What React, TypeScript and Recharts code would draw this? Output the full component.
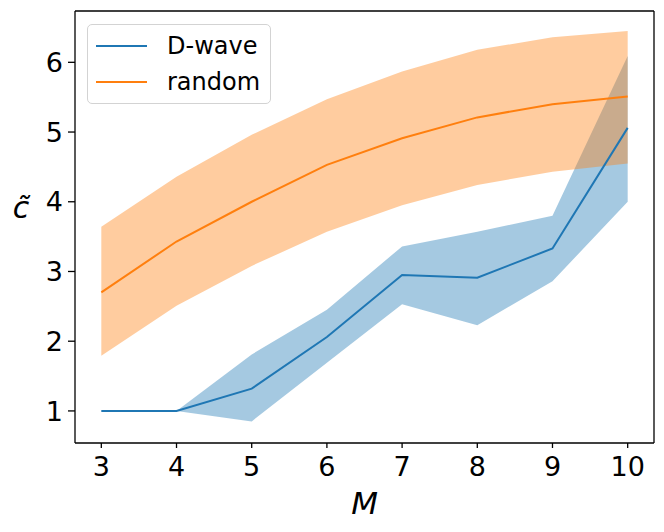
import React from "react";
import {
  ComposedChart,
  XAxis,
  YAxis,
  Area,
  Line,
  Legend,
  ReferenceLine,
} from "recharts";

// values
const mValues = [3, 4, 5, 6, 7, 8, 9, 10];
const dwaveMean = [1.0, 1.0, 1.32, 2.06, 2.95, 2.91, 3.33, 5.06];
const dwaveLow = [1.0, 1.0, 0.85, 1.69, 2.53, 2.23, 2.86, 4.0];
const dwaveHigh = [1.0, 1.0, 1.81, 2.45, 3.36, 3.57, 3.8, 6.09];
const randomMean = [2.7, 3.43, 4.0, 4.53, 4.91, 5.21, 5.4, 5.51];
const randomLow = [1.79, 2.51, 3.08, 3.57, 3.95, 4.24, 4.43, 4.55];
const randomHigh = [3.64, 4.36, 4.96, 5.47, 5.87, 6.18, 6.36, 6.45];
const xTicks = [3, 4, 5, 6, 7, 8, 9, 10];
const yTicks = [1, 2, 3, 4, 5, 6];
const xDomain = [2.65, 10.35];
const yDomain = [0.54, 6.736];

const BLUE = "#1f77b4";
const ORANGE = "#ff7f0e";
const FONT = "DejaVu Sans";

const data = mValues.map((m, i) => ({
  m,
  dwave: dwaveMean[i],
  dwaveBand: [dwaveLow[i], dwaveHigh[i]],
  random: randomMean[i],
  randomBand: [randomLow[i], randomHigh[i]],
}));

const tickStyle = { fontSize: 27, fontFamily: FONT, fill: "#000" };

const LegendBox = () => (
  <div
    style={{
      border: "1px solid #d3d3d3",
      borderRadius: 5,
      background: "rgba(255,255,255,0.8)",
      padding: "3px 10px 3px 8px",
      fontFamily: FONT,
      fontSize: 24,
      color: "#000",
    }}
  >
    {[
      { name: "D-wave", color: BLUE },
      { name: "random", color: ORANGE },
    ].map((e) => (
      <div
        key={e.name}
        style={{ display: "flex", alignItems: "center", height: 36 }}
      >
        <span
          style={{
            display: "inline-block",
            width: 51,
            height: 2,
            background: e.color,
            marginRight: 20,
          }}
        />
        <span>{e.name}</span>
      </div>
    ))}
  </div>
);

const YLabel = () => (
  <text
    x={21}
    y={218}
    textAnchor="middle"
    fontFamily={FONT}
    fontStyle="italic"
    fontSize={30}
    fill="#000"
  >
    {"c\u0303"}
  </text>
);

const App = () => {
  return (
    <div style={{ position: "absolute", left: 0, top: 0 }}>
      <ComposedChart
        width={664}
        height={532}
        data={data}
        margin={{ top: 11, right: 10, bottom: 39, left: 30 }}
      >
        <XAxis
          dataKey="m"
          type="number"
          domain={xDomain}
          ticks={xTicks}
          allowDataOverflow
          height={50}
          tickSize={5}
          tickMargin={9}
          tick={tickStyle}
          axisLine={{ stroke: "#000", strokeWidth: 1.3 }}
          tickLine={{ stroke: "#000", strokeWidth: 1.3 }}
          label={{
            value: "M",
            position: "insideBottom",
            offset: -21,
            style: {
              fontSize: 31,
              fontFamily: FONT,
              fontStyle: "italic",
              fill: "#000",
            },
          }}
        />
        <YAxis
          type="number"
          domain={yDomain}
          ticks={yTicks}
          allowDataOverflow
          width={45}
          tickSize={7}
          tickMargin={5}
          tick={tickStyle}
          axisLine={{ stroke: "#000", strokeWidth: 1.3 }}
          tickLine={{ stroke: "#000", strokeWidth: 1.3 }}
          label={{ content: () => <YLabel /> }}
        />
        <Area
          type="linear"
          dataKey="dwaveBand"
          stroke="none"
          fill={BLUE}
          fillOpacity={0.4}
          isAnimationActive={false}
          legendType="none"
        />
        <Area
          type="linear"
          dataKey="randomBand"
          stroke="none"
          fill={ORANGE}
          fillOpacity={0.4}
          isAnimationActive={false}
          legendType="none"
        />
        <Line
          type="linear"
          dataKey="dwave"
          name="D-wave"
          stroke={BLUE}
          strokeWidth={2}
          dot={false}
          isAnimationActive={false}
        />
        <Line
          type="linear"
          dataKey="random"
          name="random"
          stroke={ORANGE}
          strokeWidth={2}
          dot={false}
          isAnimationActive={false}
        />
        {/* top and right spines */}
        <ReferenceLine y={yDomain[1]} stroke="#000" strokeWidth={1.3} />
        <ReferenceLine x={xDomain[1]} stroke="#000" strokeWidth={1.3} />
        <Legend
          layout="vertical"
          align="center"
          verticalAlign="middle"
          content={() => <LegendBox />}
          wrapperStyle={{ left: 87, top: 24, width: "auto" }}
        />
      </ComposedChart>
    </div>
  );
};

export default App;
